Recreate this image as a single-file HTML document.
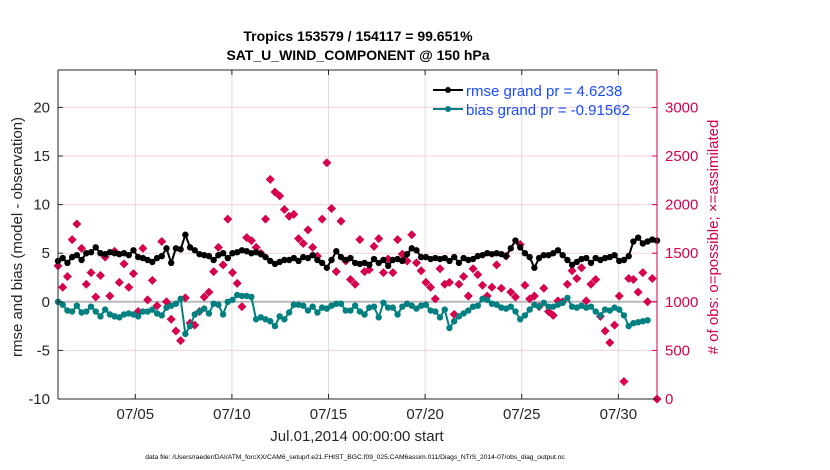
<!DOCTYPE html>
<html><head><meta charset="utf-8"><style>
body{margin:0;background:#fff;}
svg{display:block;font-family:"Liberation Sans",sans-serif;}
</style></head><body>
<svg id="chart" width="830" height="470" viewBox="0 0 830 470" xmlns="http://www.w3.org/2000/svg">
<text x="358" y="41" text-anchor="middle" font-size="14" font-weight="bold" fill="#000">Tropics 153579 / 154117 = 99.651%</text>
<text x="358" y="60" text-anchor="middle" font-size="14" font-weight="bold" fill="#000">SAT_U_WIND_COMPONENT @ 150 hPa</text>
<g id="grid"></g>
<g id="marks"></g>
<g id="axes"></g>
<text transform="translate(22,237) rotate(-90)" text-anchor="middle" font-size="15" fill="#262626">rmse and bias (model - observation)</text>
<text transform="translate(718,237) rotate(-90)" text-anchor="middle" font-size="15" fill="#d6004f"># of obs: o=possible; ×=assimilated</text>
<text x="357" y="441" text-anchor="middle" font-size="15" fill="#262626">Jul.01,2014 00:00:00 start</text>
<text x="355" y="459" text-anchor="middle" font-size="6.7" fill="#000">data file: /Users/raeder/DAI/ATM_forcXX/CAM6_setup/f.e21.FHIST_BGC.f09_025.CAM6assim.011/Diags_NTrS_2014-07/obs_diag_output.nc</text>
<g>
<line x1="433" y1="90" x2="463" y2="90" stroke="#000" stroke-width="2"/>
<circle cx="448" cy="90" r="3" fill="#000"/>
<text x="466" y="96" font-size="15" fill="#1a4cff">rmse grand pr = 4.6238</text>
<line x1="433" y1="109" x2="463" y2="109" stroke="#008080" stroke-width="2"/>
<circle cx="448" cy="109" r="3" fill="#008080"/>
<text x="466" y="115" font-size="15" fill="#1a4cff">bias grand pr = -0.91562</text>
</g>
</svg>
<script>
const xTickLabels=["07/05","07/10","07/15","07/20","07/25","07/30"];
const xTickDays=[4,9,14,19,24,29];
const yLeftTicks=[-10,-5,0,5,10,15,20];
const yRightTicks=[0,500,1000,1500,2000,2500,3000];
const rmse=[4.2,4.5,4.0,4.6,4.8,4.3,5.0,5.1,5.6,5.0,4.9,5.1,5.0,4.9,5.0,4.8,5.3,4.6,4.5,4.3,4.1,4.5,4.7,5.5,4.0,5.5,5.4,6.9,5.6,5.3,4.9,4.8,4.7,4.3,4.8,5.0,4.5,5.0,5.1,5.3,5.2,5.0,5.1,4.9,4.6,4.2,3.9,4.1,4.3,4.3,4.5,4.2,4.6,4.5,4.8,4.3,4.0,3.5,4.3,5.2,4.6,4.3,4.5,4.0,3.9,4.0,3.8,4.4,4.0,4.3,3.7,4.3,4.4,4.2,4.9,5.5,5.3,4.6,4.6,4.4,4.5,4.4,4.5,4.2,4.6,4.0,4.5,4.3,4.4,4.7,4.8,5.0,4.9,5.0,4.9,4.7,5.5,6.3,5.6,5.0,4.6,3.5,4.5,4.8,4.8,5.0,5.3,4.8,4.3,3.8,4.1,4.4,4.5,4.0,4.5,4.3,4.5,4.6,4.8,4.2,4.3,4.7,6.2,6.6,6.0,6.2,6.4,6.3];
const bias=[0,-0.3,-0.9,-1.0,-0.4,-1.1,-1.0,-0.5,-1.0,-1.5,-0.8,-1.3,-1.5,-1.6,-1.3,-1.2,-1.3,-1.5,-1.0,-1.0,-0.8,-1.2,-1.4,-0.6,-0.4,-0.2,0.3,-3.3,-2.5,-1.3,-1.0,-0.7,-1.2,-0.2,-0.3,-1.3,0,0.2,0.7,0.6,0.6,0.5,-1.8,-1.6,-1.8,-2.0,-2.5,-1.5,-1.8,-1.1,-0.3,-0.3,-0.4,-0.9,-0.5,-1.1,-0.6,-0.7,-0.4,-0.2,-0.2,-0.9,-0.9,-0.4,-1.0,-1.3,-0.6,-0.5,-1.6,-0.1,-0.6,-0.6,-1.3,-0.5,-0.2,-0.4,-0.7,-0.4,-0.3,-0.9,-1.0,-1.6,-0.8,-2.7,-2.0,-1.5,-1.2,-0.9,-0.5,-0.4,0.3,0.2,-0.2,-0.3,-0.6,-0.7,-0.5,-1.0,-1.8,-1.4,-0.8,-0.3,-0.5,-0.1,-0.5,-0.5,-0.3,-0.1,0.4,-0.5,-0.6,-0.4,-0.6,-0.5,-1.0,-1.4,-0.8,-0.9,-0.6,-0.8,-1.4,-2.5,-2.2,-2.1,-2.0,-1.9];
const obsCount=[1370,1150,1260,1640,1800,1550,1180,1300,1050,1270,1460,1060,1520,1200,1390,1150,1290,900,1550,1020,1220,960,1620,1000,820,700,600,1040,780,760,900,1050,1100,1310,1560,1380,1850,1300,1190,950,1660,1630,1560,1500,1850,2260,2130,2090,1950,1880,1900,1650,1600,1740,1560,1470,1850,2430,1960,1310,1830,1420,1230,1180,1640,1310,1330,1570,1650,1300,1440,1300,1640,1490,1420,1690,1400,1320,1200,1150,1030,1340,1180,1200,870,1180,1260,1060,1340,1280,1170,1060,1150,1380,1140,1470,1100,1050,1590,1170,1030,1060,950,1140,900,860,1010,1000,1180,1320,1240,1350,1010,1180,1230,850,700,580,760,1060,180,1240,1230,1100,1300,1000,1240,0];

const X0=58,X1=657,YT=70,YB=399;
const xs=d=>X0+d*(X1-X0)/31;
const yL=v=>YB-(v+10)*9.72;
const yR=c=>YB-c*0.0972;
const tDay=i=>i*31/(rmse.length-1);
const NS="http://www.w3.org/2000/svg";
function mk(tag,attrs,parent){const e=document.createElementNS(NS,tag);for(const k in attrs)e.setAttribute(k,attrs[k]);parent.appendChild(e);return e;}
const grid=document.getElementById('grid'),marks=document.getElementById('marks'),axes=document.getElementById('axes');

xTickDays.forEach((d,i)=>{
  const g=mk('line',{x1:xs(d),x2:xs(d),y1:YT,y2:YB,stroke:'#dcdcdc','stroke-width':1},grid);
  
  
  const t=mk('text',{x:xs(d),y:419,'text-anchor':'middle','font-size':15,fill:'#262626'},axes);
  t.textContent=xTickLabels[i];
  
  
  mk('line',{x1:xs(d),x2:xs(d),y1:YB,y2:YB-5,stroke:'#262626'},axes);
  mk('line',{x1:xs(d),x2:xs(d),y1:YT,y2:YT+5,stroke:'#262626'},axes);
});
yLeftTicks.forEach(v=>{
  if(v!==0&&v!==-10){const g=mk('line',{x1:X0,x2:X1,y1:yL(v),y2:yL(v),stroke:'#f4d0dc','stroke-width':1},grid);
  
  }
  const t=mk('text',{x:X0-8,y:yL(v)+5,'text-anchor':'end','font-size':15,fill:'#262626'},axes);
  t.textContent=v;
  
  
  mk('line',{x1:X0,x2:X0+5,y1:yL(v),y2:yL(v),stroke:'#262626'},axes);
});
yRightTicks.forEach(c=>{
  const t=mk('text',{x:X1+8,y:yR(c)+5,'font-size':15,fill:'#d6004f'},axes);
  t.textContent=c;
  
  
  mk('line',{x1:X1,x2:X1-5,y1:yR(c),y2:yR(c),stroke:'#d6004f'},axes);
});
const zl=mk('line',{x1:X0,x2:X1,y1:yL(0),y2:yL(0),stroke:'#b8b8b8','stroke-width':2},grid);



obsCount.forEach((c,i)=>{
  const x=xs(tDay(i)),y=yR(c);
  const p=mk('polygon',{points:`${x},${y-4.5} ${x+4.5},${y} ${x},${y+4.5} ${x-4.5},${y}`,fill:'#d6004f'},marks);
  
  
});
function series(vals,color,name){
  const pts=vals.map((v,i)=>xs(tDay(i))+','+yL(v)).join(' ');
  const l=mk('polyline',{points:pts,fill:'none',stroke:color,'stroke-width':2},marks);
  
  
  vals.forEach((v,i)=>{
    const c=mk('circle',{cx:xs(tDay(i)),cy:yL(v),r:3.2,fill:color},marks);
    
    
  });
}
series(bias,'#008080','bias');
series(rmse,'#000000','rmse');

const la=mk('line',{x1:X0,x2:X0,y1:YT,y2:YB,stroke:'#262626','stroke-width':1},axes);


const ta=mk('line',{x1:X0,x2:X1,y1:YT,y2:YT,stroke:'#262626','stroke-width':1},axes);


const ba=mk('line',{x1:X0,x2:X1,y1:YB,y2:YB,stroke:'#262626','stroke-width':1},axes);


const ra=mk('line',{x1:X1,x2:X1,y1:YT,y2:YB,stroke:'#d6004f','stroke-width':1},axes);


</script>
</body></html>
